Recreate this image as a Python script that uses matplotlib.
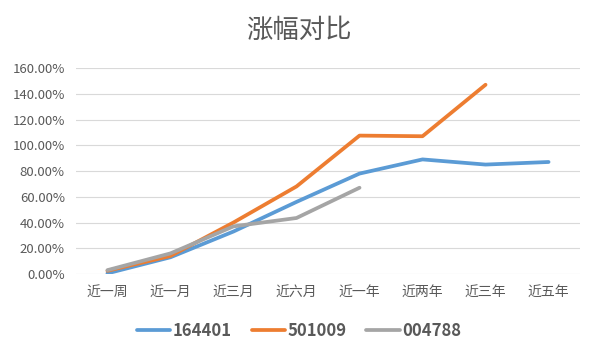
import matplotlib
matplotlib.use('Agg')
from matplotlib import pyplot as plt
from matplotlib.ticker import FuncFormatter

plt.rcParams['font.family'] = ['Noto Sans CJK SC', 'DejaVu Sans']

categories = ['近一周', '近一月', '近三月', '近六月', '近一年', '近两年', '近三年', '近五年']
fund_164401 = [0.5, 13, 33, 56, 78, 89, 85, 87]
fund_501009 = [2.5, 14, 40, 68, 107.5, 107, 147]
fund_004788 = [3, 16, 37, 43.5, 67]

fig = plt.figure(figsize=(5.98, 3.57), dpi=100)
ax = fig.add_axes([0.127, 0.2325, 0.843, 0.577])

text_color = '#595959'
kw = dict(linewidth=2.7, solid_capstyle='round', solid_joinstyle='round')
ax.plot(range(len(fund_164401)), fund_164401, color='#5B9BD5', label='164401', **kw)
ax.plot(range(len(fund_501009)), fund_501009, color='#ED7D31', label='501009', **kw)
ax.plot(range(len(fund_004788)), fund_004788, color='#A5A5A5', label='004788', **kw)

ax.set_xlim(-0.5, len(categories) - 0.5)
ax.set_ylim(0, 160)
ax.set_yticks(range(0, 161, 20))
ax.yaxis.set_major_formatter(FuncFormatter(lambda v, p: '%.2f%%' % v))
ax.set_xticks(range(len(categories)))
ax.set_xticklabels(categories)
ax.grid(axis='y', color='#D9D9D9', linewidth=0.8)
ax.set_axisbelow(True)
for s in ax.spines.values():
    s.set_visible(False)
ax.tick_params(length=0, labelsize=9.5, colors=text_color, pad=8)
for lab in ax.get_xticklabels():
    lab.set_fontsize(10)

fig.text(0.5, 0.915, '涨幅对比', ha='center', va='center', fontsize=19, color=text_color)

leg = fig.legend(loc='center', bbox_to_anchor=(0.5, 0.073), ncol=3, frameon=False,
                 handlelength=2.0, handletextpad=0.15, columnspacing=1.2,
                 prop={'weight': 'bold', 'size': 12})
for t in leg.get_texts():
    t.set_color(text_color)

fig.savefig('out.png', dpi=100)
